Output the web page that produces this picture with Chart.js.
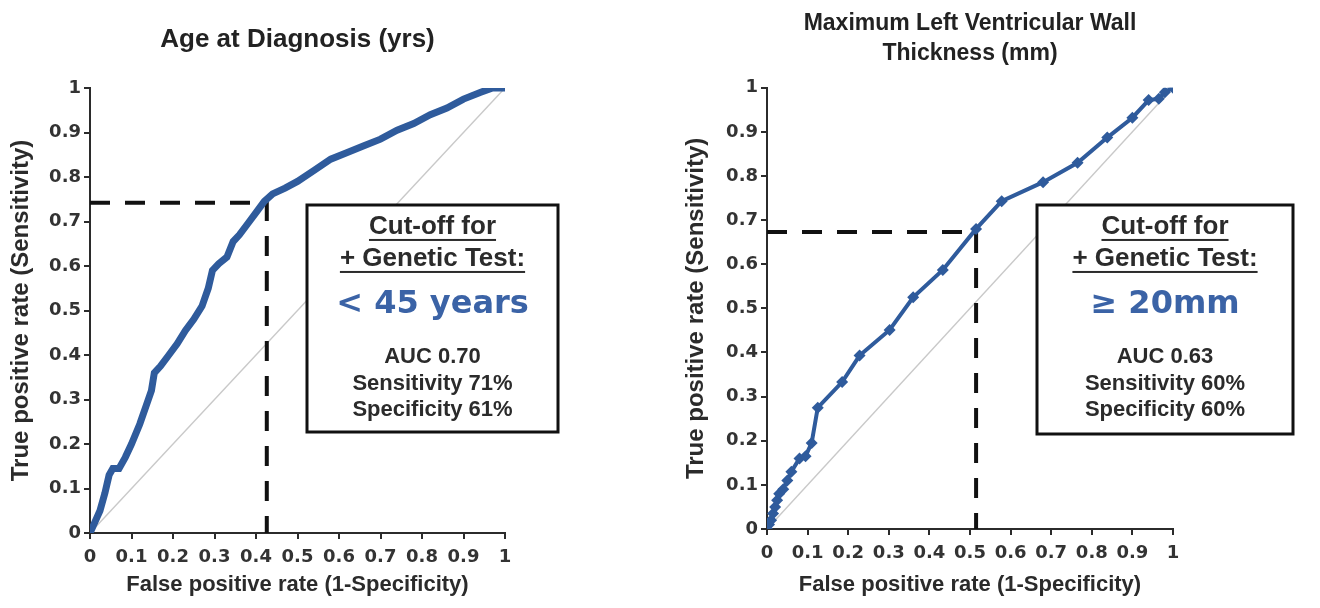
<!DOCTYPE html>
<html><head><meta charset="utf-8">
<script src="https://cdn.jsdelivr.net/npm/chart.js@4.4.1/dist/chart.umd.min.js"></script>
<style>
html,body{margin:0;padding:0;background:#fff;width:1320px;height:608px;overflow:hidden}
.p{position:absolute;top:0;width:660px;height:608px}
</style>
</head><body>
<div class="p" style="left:0"><canvas id="ageChart"></canvas></div>
<div class="p" style="left:660px"><canvas id="wallChart"></canvas></div>
<script>
// ---------- data ----------
const tickValues = [0, 0.1, 0.2, 0.3, 0.4, 0.5, 0.6, 0.7, 0.8, 0.9, 1];
const tickLabels = ['0', '0.1', '0.2', '0.3', '0.4', '0.5', '0.6', '0.7', '0.8', '0.9', '1'];

const ageTitle = 'Age at Diagnosis (yrs)';
const ageFpr = [0, 0.012, 0.024, 0.036, 0.046, 0.055, 0.07, 0.085, 0.1, 0.12, 0.135, 0.148, 0.155, 0.17, 0.19, 0.21, 0.23, 0.25, 0.27, 0.285, 0.295, 0.31, 0.33, 0.345, 0.36, 0.38, 0.4, 0.42, 0.44, 0.47, 0.5, 0.54, 0.58, 0.62, 0.66, 0.7, 0.74, 0.78, 0.82, 0.86, 0.9, 0.94, 0.97, 1.0];
const ageTpr = [0, 0.025, 0.05, 0.09, 0.13, 0.145, 0.145, 0.17, 0.2, 0.245, 0.285, 0.32, 0.36, 0.375, 0.4, 0.425, 0.455, 0.48, 0.51, 0.55, 0.59, 0.605, 0.62, 0.655, 0.67, 0.695, 0.72, 0.745, 0.762, 0.775, 0.79, 0.815, 0.84, 0.855, 0.87, 0.885, 0.905, 0.92, 0.94, 0.955, 0.975, 0.99, 1.0, 1.0];
const ageCutX = [0, 0.426, 0.426];
const ageCutY = [0.742, 0.742, 0];
const ageBoxLines = ['Cut-off for', '+ Genetic Test:', '< 45 years', 'AUC 0.70', 'Sensitivity 71%', 'Specificity 61%'];

const wallTitle = ['Maximum Left Ventricular Wall', 'Thickness (mm)'];
const wallFpr = [0, 0.005, 0.01, 0.015, 0.02, 0.025, 0.03, 0.04, 0.05, 0.06, 0.08, 0.095, 0.11, 0.125, 0.185, 0.228, 0.302, 0.36, 0.433, 0.515, 0.578, 0.68, 0.765, 0.838, 0.9, 0.94, 0.965, 0.98, 1.0];
const wallTpr = [0, 0.01, 0.02, 0.035, 0.05, 0.065, 0.08, 0.09, 0.11, 0.13, 0.16, 0.165, 0.195, 0.275, 0.333, 0.393, 0.451, 0.525, 0.587, 0.68, 0.743, 0.786, 0.83, 0.887, 0.932, 0.972, 0.975, 0.99, 1.0];
const wallCutX = [0, 0.515, 0.515];
const wallCutY = [0.673, 0.673, 0];
const wallBoxLines = ['Cut-off for', '+ Genetic Test:', '\u2265 20mm', 'AUC 0.63', 'Sensitivity 60%', 'Specificity 60%'];

const diagX = [0, 1];
const diagY = [0, 1];

const xAxisTitle = 'False positive rate (1-Specificity)';
const yAxisTitle = 'True positive rate (Sensitivity)';

// ---------- styling ----------
const FONT = "'Liberation Sans', Arial, Helvetica, sans-serif";
const WIDE = "'DejaVu Sans', Verdana, sans-serif";
const BLUE = '#2f5b9c';
const AXIS = '#2b2b2b';

Chart.defaults.font.family = FONT;
Chart.defaults.color = '#2b2b2b';

const toPts = (xs, ys) => xs.map((x, i) => ({x, y: ys[i]}));

const cutoffBox = {
  id: 'cutoffBox',
  afterDraw(chart, args, o) {
    if (!o || !o.lines) return;
    const ctx = chart.ctx;
    const a = chart.chartArea;
    const L = a.left + o.dx, T = o.top, R = L + o.w;
    ctx.save();
    ctx.fillStyle = '#fff';
    ctx.fillRect(L, T, o.w, o.h);
    ctx.lineWidth = 3;
    ctx.strokeStyle = '#111';
    ctx.strokeRect(L, T, o.w, o.h);
    const cx = (L + R) / 2;
    ctx.textAlign = 'center';
    ctx.textBaseline = 'middle';
    o.lines.forEach((text, i) => {
      const st = o.styles[i];
      ctx.font = 'bold ' + st.size + 'px ' + (st.family || FONT);
      ctx.fillStyle = st.color;
      ctx.fillText(text, cx, T + st.y);
      if (st.underline) {
        const w = ctx.measureText(text).width;
        ctx.fillRect(cx - w / 2, T + st.y + st.size * 0.46, w, 2);
      }
    });
    ctx.restore();
  }
};

function boxStyles() {
  return [
    {y: 22, size: 26, color: '#2b2b2b', underline: true},
    {y: 54, size: 26, color: '#2b2b2b', underline: true},
    {y: 100, size: 32, color: '#3b63a6', family: WIDE},
    {y: 152, size: 22, color: '#2b2b2b'},
    {y: 179, size: 22, color: '#2b2b2b'},
    {y: 205, size: 22, color: '#2b2b2b'}
  ];
}

function makeChart(id, cfg) {
  const tickFont = {family: WIDE, size: 18, weight: 'bold'};
  const scaleCommon = {
    type: 'linear', min: 0, max: 1,
    grid: {display: true, drawOnChartArea: false, drawTicks: true, tickLength: 6, color: AXIS, lineWidth: 2},
    border: {display: true, color: AXIS, width: 2},
    ticks: {stepSize: 0.1, font: tickFont, color: '#333',
            callback: v => tickLabels[tickValues.indexOf(Math.round(v * 10) / 10)]}
  };
  return new Chart(document.getElementById(id), {
    type: 'scatter',
    data: {
      datasets: [
        {data: toPts(cfg.fpr, cfg.tpr), showLine: true, borderColor: BLUE, backgroundColor: BLUE,
         borderWidth: cfg.lineWidth, pointRadius: cfg.pointRadius, pointStyle: 'rectRot',
         pointBorderWidth: 0, tension: 0},
        {data: toPts(cfg.cutX, cfg.cutY), showLine: true, borderColor: '#111', borderWidth: 4,
         borderDash: [20, 15], pointRadius: 0},
        {data: toPts(diagX, diagY), showLine: true, borderColor: '#c9c9c9', borderWidth: 1.5, pointRadius: 0}
      ]
    },
    options: {
      responsive: true, maintainAspectRatio: false, animation: false,
      layout: {padding: {left: 0, right: cfg.padRight, top: 0, bottom: 0}},
      plugins: {
        legend: {display: false}, tooltip: {enabled: false},
        title: {display: true, text: cfg.title, fullSize: false, color: '#222',
                font: cfg.titleFont, padding: cfg.titlePad},
        cutoffBox: {lines: cfg.boxLines, styles: boxStyles(), dx: cfg.boxDx, top: cfg.boxTop, w: cfg.boxW, h: cfg.boxH}
      },
      scales: {
        x: Object.assign({}, scaleCommon, {
          position: 'bottom',
          ticks: Object.assign({}, scaleCommon.ticks, {padding: 8, maxRotation: 0, autoSkip: false}),
          title: {display: true, text: xAxisTitle, font: {size: 22, weight: 'bold'}, color: '#2b2b2b', padding: {top: 0, bottom: 10}},
          afterFit: s => { s.height = cfg.xAxisH; }
        }),
        y: Object.assign({}, scaleCommon, {
          position: 'left',
          ticks: Object.assign({}, scaleCommon.ticks, {padding: 3}),
          title: {display: true, text: yAxisTitle, font: {size: 24, weight: 'bold'}, color: '#2b2b2b', padding: {top: cfg.yTitlePad, bottom: 0}},
          afterFit: s => { s.width = cfg.yAxisW; }
        })
      }
    },
    plugins: [cutoffBox]
  });
}

makeChart('ageChart', {
  fpr: ageFpr, tpr: ageTpr, cutX: ageCutX, cutY: ageCutY, boxLines: ageBoxLines,
  title: ageTitle, titleFont: {size: 26, weight: 'bold', lineHeight: 1.25}, titlePad: {top: 24, bottom: 31.5},
  lineWidth: 7, pointRadius: 0, padRight: 155, xAxisH: 75, yAxisW: 90, yTitlePad: 7,
  boxDx: 217, boxTop: 205, boxW: 251, boxH: 227
});

makeChart('wallChart', {
  fpr: wallFpr, tpr: wallTpr, cutX: wallCutX, cutY: wallCutY, boxLines: wallBoxLines,
  title: wallTitle, titleFont: {size: 23, weight: 'bold', lineHeight: 1.32}, titlePad: {top: 8, bottom: 19},
  lineWidth: 4, pointRadius: 6, padRight: 147, xAxisH: 79, yAxisW: 107, yTitlePad: 22,
  boxDx: 270, boxTop: 205, boxW: 256, boxH: 229
});
</script>
</body></html>
